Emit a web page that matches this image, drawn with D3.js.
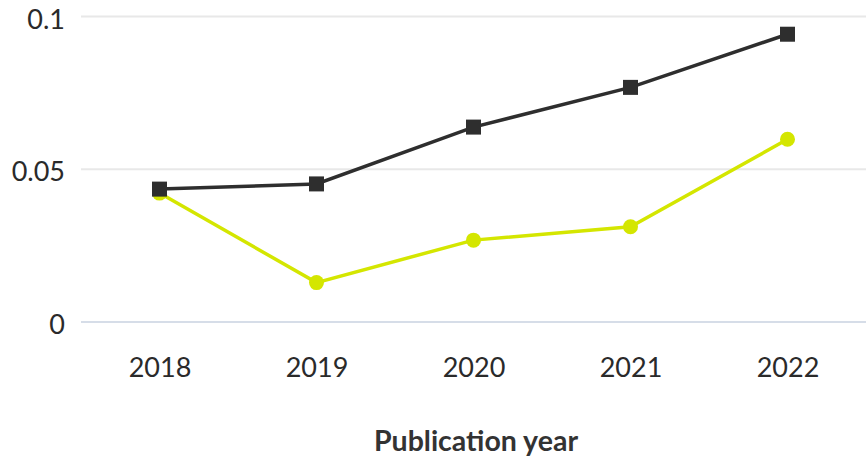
<!DOCTYPE html>
<html>
<head>
<meta charset="utf-8">
<script src="https://cdn.jsdelivr.net/npm/d3@7"></script>
<style>
  body { margin: 0; background: #fff; }
  text { font-family: Lato, "Open Sans", sans-serif; }
</style>
</head>
<body>
<div class="chart"></div>
<script>
var years = ["2018", "2019", "2020", "2021", "2022"];
var darkValues = [0.0435, 0.0452, 0.0638, 0.0768, 0.0942];
var greenValues = [0.0422, 0.0129, 0.0268, 0.0312, 0.0598];
var yTicks = [0, 0.05, 0.1];
var yTickLabels = ["0", "0.05", "0.1"];
var xTitle = "Publication year";

const width = 866, height = 460;
const margin = ({ top: 16.5, right: 0, bottom: 138, left: 81 });

var svg = d3.select(".chart").append("svg")
    .attr("width", width)
    .attr("height", height);

var x = d3.scalePoint()
    .domain(years)
    .range([margin.left, width - margin.right])
    .padding(0.5);

var y = d3.scaleLinear()
    .domain([0, 0.1])
    .range([height - margin.bottom, margin.top]);

// gridlines
svg.append("g")
    .selectAll("line")
    .data(yTicks)
    .join("line")
    .attr("x1", margin.left)
    .attr("x2", width - margin.right)
    .attr("y1", d => y(d))
    .attr("y2", d => y(d))
    .attr("stroke", d => d === 0 ? "#d6dde8" : "#e8e8e8")
    .attr("stroke-width", 2);

// y tick labels
svg.append("g")
    .selectAll("text")
    .data(yTicks)
    .join("text")
    .attr("x", 65)
    .attr("y", d => y(d))
    .attr("dy", "0.45em")
    .attr("text-anchor", "end")
    .attr("font-size", 27)
    .attr("fill", "#2a2a2a")
    .text((d, i) => yTickLabels[i]);

// x axis, labels only
var xAxis = svg.append("g")
    .attr("transform", `translate(0, ${y(0)})`)
    .call(d3.axisBottom(x).tickSize(0).tickPadding(36));
xAxis.select(".domain").remove();
xAxis.selectAll("text")
    .attr("font-size", 27)
    .attr("font-family", "Lato, 'Open Sans', sans-serif")
    .attr("fill", "#2a2a2a");

svg.append("text")
    .attr("x", 476)
    .attr("y", 451)
    .attr("text-anchor", "middle")
    .attr("font-size", 28.5)
    .attr("font-weight", "bold")
    .attr("fill", "#333")
    .text(xTitle);

var line = d3.line()
    .x((d, i) => x(years[i]))
    .y(d => y(d));

// green series
svg.append("path")
    .datum(greenValues)
    .attr("d", line)
    .attr("fill", "none")
    .attr("stroke", "#d4e600")
    .attr("stroke-width", 3.5);

svg.append("g")
    .selectAll("circle")
    .data(greenValues)
    .join("circle")
    .attr("cx", (d, i) => x(years[i]))
    .attr("cy", d => y(d))
    .attr("r", 7.5)
    .attr("fill", "#d4e600");

// dark series
svg.append("path")
    .datum(darkValues)
    .attr("d", line)
    .attr("fill", "none")
    .attr("stroke", "#2e2e2e")
    .attr("stroke-width", 3.5);

svg.append("g")
    .selectAll("rect")
    .data(darkValues)
    .join("rect")
    .attr("x", (d, i) => x(years[i]) - 7.5)
    .attr("y", d => y(d) - 7.5)
    .attr("width", 15)
    .attr("height", 15)
    .attr("fill", "#2e2e2e");
</script>
</body>
</html>
